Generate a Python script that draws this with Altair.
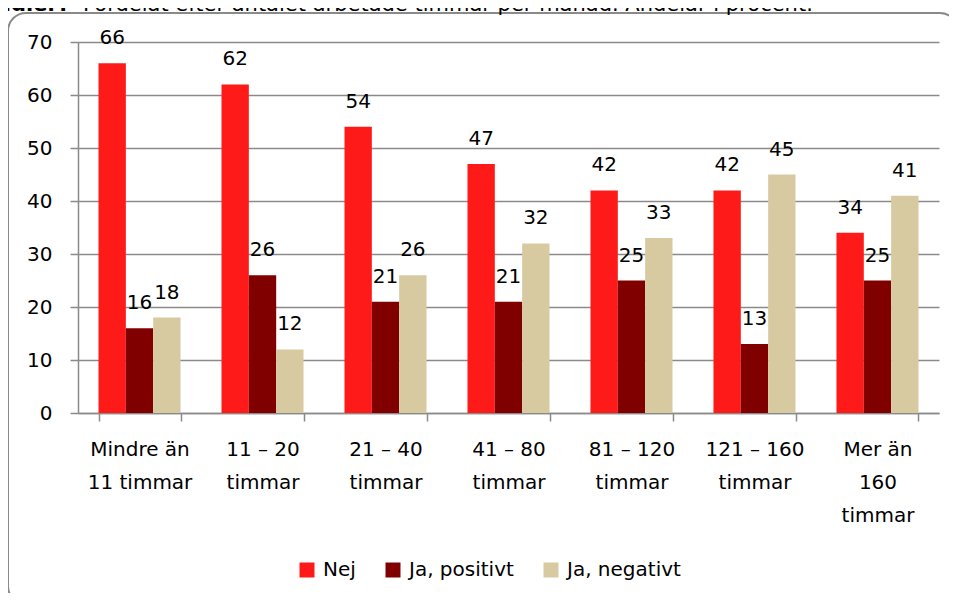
import altair as alt
import pandas as pd

categories = ["Mindre än|11 timmar", "11 – 20|timmar", "21 – 40|timmar", "41 – 80|timmar",
              "81 – 120|timmar", "121 – 160|timmar", "Mer än|160|timmar"]
series = ["Nej", "Ja, positivt", "Ja, negativt"]
nej = [66, 62, 54, 47, 42, 42, 34]
ja_pos = [16, 26, 21, 21, 25, 13, 25]
ja_neg = [18, 12, 26, 32, 33, 45, 41]
colors = ["#FF1A1A", "#800000", "#D7CAA0"]
y_ticks = [0, 10, 20, 30, 40, 50, 60, 70]
title_bold = "studier?"
title_rest = "Fördelat efter antalet arbetade timmar per månad. Andelar i procent."

FONT = "DejaVu Sans"
FS = 20
GRAY = "#8A8A8A"

rows = []
for i, c in enumerate(categories):
    for s, vals in zip(series, [nej, ja_pos, ja_neg]):
        rows.append({"cat": c, "serie": s, "val": vals[i]})
df = pd.DataFrame(rows)

x = alt.X("cat:N", sort=categories,
          scale=alt.Scale(paddingInner=0.333, paddingOuter=0.1667),
          axis=alt.Axis(title=None,
                        labelExpr="isValid(datum.value) ? split(datum.value, '|') : ''",
                        labelAngle=0, labelFontSize=FS, labelLineHeight=33, labelPadding=18,
                        labelFont=FONT, labelColor="black", tickBand="extent",
                        tickSize=8, tickColor=GRAY, tickWidth=1.5,
                        domainColor=GRAY, domainWidth=1.5, labelBaseline="top"))
xoff = alt.XOffset("serie:N", sort=series)
y = alt.Y("val:Q", scale=alt.Scale(domain=[0, 70], nice=False),
          axis=alt.Axis(title=None, values=y_ticks, grid=True, gridColor=GRAY,
                        gridWidth=1.5, tickSize=8, tickColor=GRAY, tickWidth=1.5,
                        domainColor=GRAY, domainWidth=1.5, labelFontSize=FS,
                        labelFont=FONT, labelColor="black", labelPadding=18))
color = alt.Color("serie:N", sort=series,
                  scale=alt.Scale(domain=series, range=colors),
                  legend=alt.Legend(title=None, orient="none", legendX=219, legendY=518,
                                    direction="horizontal", symbolType="square",
                                    symbolSize=225, labelFontSize=FS, labelFont=FONT,
                                    labelColor="black", columnPadding=27, labelOffset=6,
                                    symbolStrokeWidth=0))

base = alt.Chart(df)
bars = base.mark_bar().encode(x=x, xOffset=xoff, y=y, color=color)
labels = base.mark_text(dy=-19, baseline="alphabetic", fontSize=FS, font=FONT,
                        color="black").encode(x=x, xOffset=xoff, y=y, text="val:Q")

frame_df = pd.DataFrame({"k": [1]})
frame = alt.Chart(frame_df).mark_rect(fill="transparent", stroke=GRAY, strokeWidth=2,
                                      cornerRadius=18).encode(
    x=alt.value(-70), x2=alt.value(880), y=alt.value(-29), y2=alt.value(562))

title_df = pd.DataFrame({"bold": [title_bold], "rest": [title_rest]})
t1 = alt.Chart(title_df).mark_text(align="right", baseline="alphabetic", fontSize=21,
                                   font=FONT, fontWeight="bold", color="black").encode(
    x=alt.value(-8), y=alt.value(-31), text="bold:N")
t2 = alt.Chart(title_df).mark_text(align="left", baseline="alphabetic", fontSize=21,
                                   font=FONT, color="black").encode(
    x=alt.value(5), y=alt.value(-31), text="rest:N")

chart = alt.layer(frame, t1, t2, bars, labels).properties(
    width=861, height=371,
    autosize=alt.AutoSizeParams(type="none"),
    padding={"left": 70, "top": 34, "right": 10, "bottom": 180},
    background="white",
).configure_view(stroke=None)

chart.save("out.html", embed_options={"renderer": "svg", "actions": False})
